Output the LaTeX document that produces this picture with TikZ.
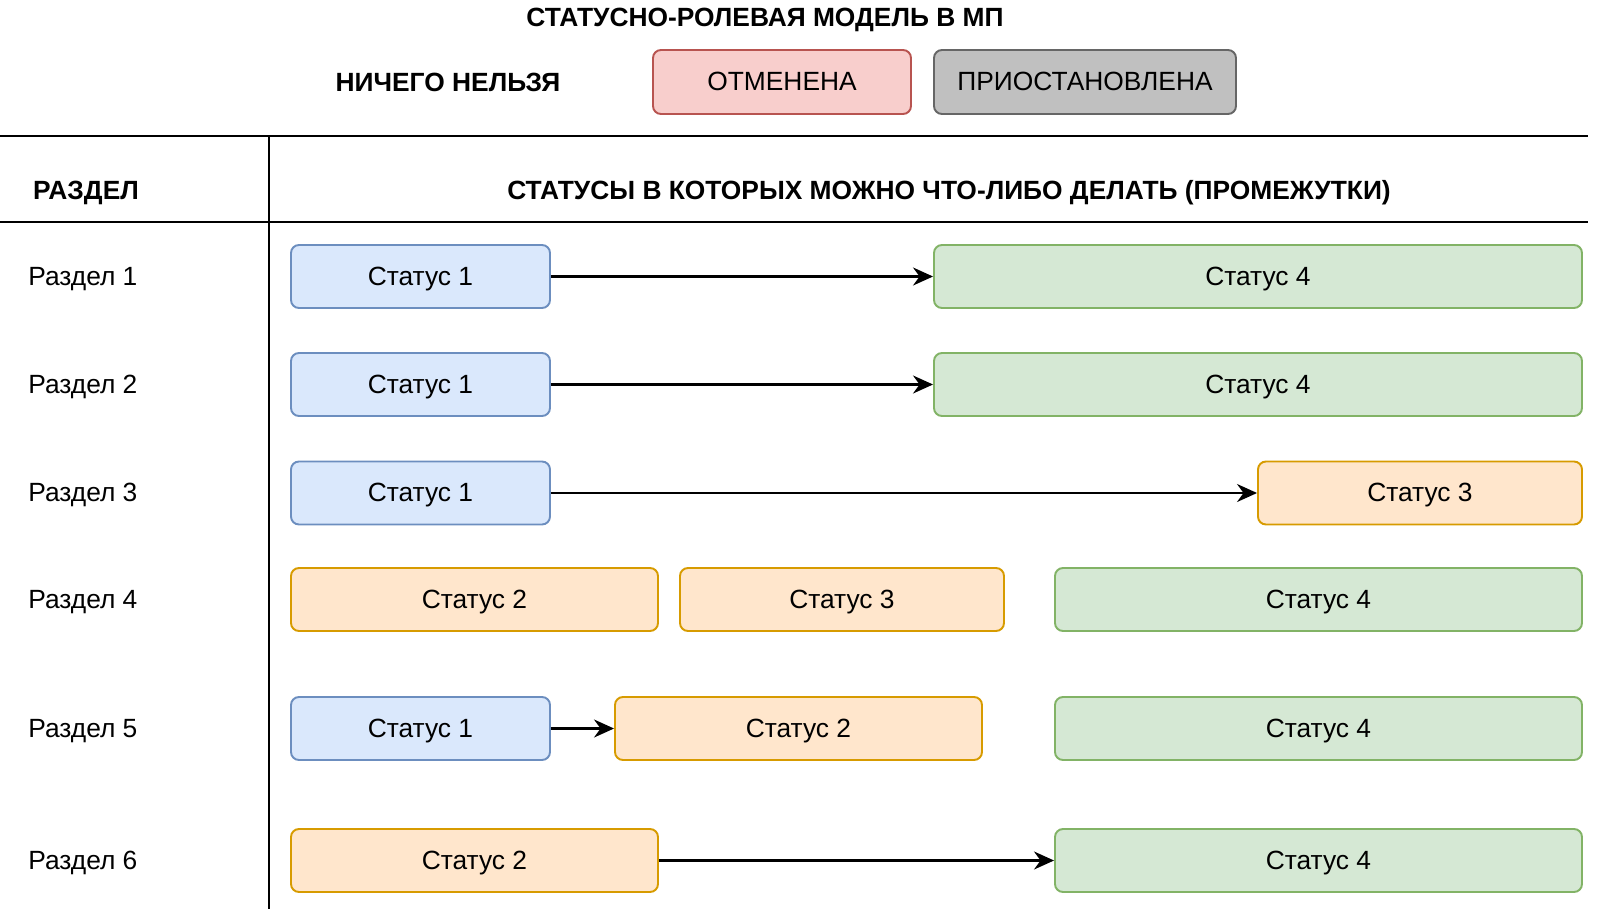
\documentclass[tikz,border=0pt]{standalone}
\usepackage{fontspec}
\setmainfont{Liberation Sans}
\usetikzlibrary{arrows.meta, positioning}
\definecolor{cblue}{HTML}{6C8EBF}
\definecolor{cbluef}{HTML}{DAE8FC}
\definecolor{cgreen}{HTML}{82B366}
\definecolor{cgreenf}{HTML}{D5E8D4}
\definecolor{corange}{HTML}{D79B00}
\definecolor{corangef}{HTML}{FFE6CC}
\definecolor{cred}{HTML}{B85450}
\definecolor{credf}{HTML}{F8CECC}
\definecolor{cgrey}{HTML}{666666}
\definecolor{cgreyf}{HTML}{C0C0C0}
\tikzset{
  every picture/.style={font=\fontsize{15}{18}\selectfont, line width=1.1pt},
  every node/.style={text height=1.0em, text depth=0pt},
  box/.style={draw=#1, fill=#1f, rounded corners=1.6mm, minimum height=1.26cm, inner sep=0pt},
  box/.default=cblue,
  arrow/.style={-{Stealth[length=4mm, width=3.6mm, inset=1.3mm]}, draw=black, line width=1.2pt},
  head/.style={font=\fontsize{15}{18}\selectfont\bfseries},
  rowname/.style={anchor=west},
  rule/.style={draw=black, line width=1.1pt},
}

\begin{document}
\begin{tikzpicture}
  \useasboundingbox (0,0) rectangle (32,-18.18);
  % header
  \node[head] (title) at (15.3,-0.36) {СТАТУСНО-РОЛЕВАЯ МОДЕЛЬ В МП};
  \node[head] (none) at (8.96,-1.66) {НИЧЕГО НЕЛЬЗЯ};
  \node[box=cred, minimum width=5.16cm, minimum height=1.28cm] (cancel) at (15.64,-1.64) {ОТМЕНЕНА};
  \node[box=cgrey, minimum width=6.04cm, minimum height=1.28cm] (pause) at (21.7,-1.64) {ПРИОСТАНОВЛЕНА};
  % table
  \draw[rule] (0,-2.72) -- (31.76,-2.72);
  \draw[rule] (0,-4.44) -- (31.76,-4.44);
  \draw[rule] (5.38,-2.72) -- (5.38,-18.18);
  \node[head] (colsec) at (1.72,-3.82) {РАЗДЕЛ};
  \node[head] (colstat) at (18.98,-3.82) {СТАТУСЫ В КОТОРЫХ МОЖНО ЧТО-ЛИБО ДЕЛАТЬ (ПРОМЕЖУТКИ)};
  \node[rowname] (sec1) at (0.43,-5.53) {Раздел 1};
  \node[rowname] (sec2) at (0.43,-7.69) {Раздел 2};
  \node[rowname] (sec3) at (0.43,-9.86) {Раздел 3};
  \node[rowname] (sec4) at (0.43,-11.99) {Раздел 4};
  \node[rowname] (sec5) at (0.43,-14.57) {Раздел 5};
  \node[rowname] (sec6) at (0.43,-17.21) {Раздел 6};
  % row 1
  \node[box=cblue, minimum width=5.18cm] (r1s1) at (8.41,-5.53) {Статус 1};
  \node[box=cgreen, minimum width=12.96cm] (r1s4) at (25.16,-5.53) {Статус 4};
  \draw[arrow] (r1s1) -- (r1s4);
  % row 2
  \node[box=cblue, minimum width=5.18cm] (r2s1) at (8.41,-7.69) {Статус 1};
  \node[box=cgreen, minimum width=12.96cm] (r2s4) at (25.16,-7.69) {Статус 4};
  \draw[arrow] (r2s1) -- (r2s4);
  % row 3
  \node[box=cblue, minimum width=5.18cm] (r3s1) at (8.41,-9.86) {Статус 1};
  \node[box=corange, minimum width=6.48cm] (r3s3) at (28.4,-9.86) {Статус 3};
  \draw[arrow] (r3s1) -- (r3s3);
  % row 4
  \node[box=corange, minimum width=7.34cm] (r4s2) at (9.49,-11.99) {Статус 2};
  \node[box=corange, minimum width=6.48cm] (r4s3) at (16.84,-11.99) {Статус 3};
  \node[box=cgreen, minimum width=10.54cm] (r4s4) at (26.37,-11.99) {Статус 4};
  % row 5
  \node[box=cblue, minimum width=5.18cm] (r5s1) at (8.41,-14.57) {Статус 1};
  \node[box=corange, minimum width=7.34cm] (r5s2) at (15.97,-14.57) {Статус 2};
  \node[box=cgreen, minimum width=10.54cm] (r5s4) at (26.37,-14.57) {Статус 4};
  \draw[arrow] (r5s1) -- (r5s2);
  % row 6
  \node[box=corange, minimum width=7.34cm] (r6s2) at (9.49,-17.21) {Статус 2};
  \node[box=cgreen, minimum width=10.54cm] (r6s4) at (26.37,-17.21) {Статус 4};
  \draw[arrow] (r6s2) -- (r6s4);
\end{tikzpicture}
\end{document}
